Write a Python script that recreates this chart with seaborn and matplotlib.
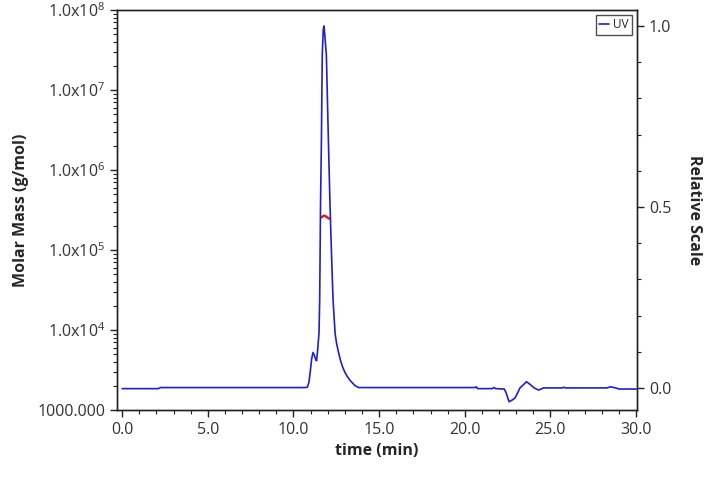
import numpy as np
import pandas as pd
import matplotlib
matplotlib.use("Agg")
import matplotlib.pyplot as plt
import matplotlib.ticker as mticker
import seaborn as sns

# UV trace (relative scale)
uv_time = [0.0, 2.1, 2.25, 10.7, 10.81, 10.9, 10.98, 11.06, 11.14, 11.22, 11.3, 11.35,
           11.42, 11.49, 11.53, 11.58, 11.63, 11.68, 11.74, 11.78, 11.82, 11.92,
           12.04, 12.13, 12.22, 12.31, 12.43, 12.52, 12.63, 12.75, 12.86, 13.0,
           13.15, 13.3, 13.44, 13.6, 13.8, 20.6, 20.67, 20.75, 21.6, 21.7, 21.8,
           22.3, 22.4, 22.58, 22.75, 22.93, 23.1, 23.22, 23.4, 23.6, 23.8, 24.05,
           24.3, 24.6, 25.7, 25.77, 25.85, 28.3, 28.5, 28.8, 29.0, 30.0]
uv_value = [-0.002, -0.002, 0.001, 0.001, 0.002, 0.015, 0.045, 0.08, 0.098, 0.09, 0.078,
            0.075, 0.11, 0.152, 0.243, 0.51, 0.68, 0.92, 0.99, 1.0, 0.98, 0.92,
            0.68, 0.51, 0.37, 0.243, 0.15, 0.122, 0.098, 0.075, 0.059, 0.043,
            0.031, 0.021, 0.014, 0.006, 0.001, 0.001, 0.003, -0.002, -0.002, 0.001,
            -0.002, -0.003, -0.012, -0.038, -0.034, -0.028, -0.012, 0.0, 0.008,
            0.017, 0.01, 0.0, -0.006, 0.0, 0.0, 0.002, 0.0, 0.0, 0.003, 0.0,
            -0.003, -0.003]

# Molar mass trace across the peak
mm_time = [11.63, 11.7, 11.78, 11.86, 11.94, 12.02, 12.11]
mm_value = [2.56e5, 2.62e5, 2.68e5, 2.66e5, 2.58e5, 2.52e5, 2.46e5]

x_ticks = [0.0, 5.0, 10.0, 15.0, 20.0, 25.0, 30.0]
left_ticks = [1e3, 1e4, 1e5, 1e6, 1e7, 1e8]
left_labels = ["1000.000", r"1.0x10$^{4}$", r"1.0x10$^{5}$", r"1.0x10$^{6}$",
               r"1.0x10$^{7}$", r"1.0x10$^{8}$"]
right_ticks = [0.0, 0.5, 1.0]

sns.set_theme(style="ticks")
plt.rcParams['font.family'] = ['Open Sans', 'DejaVu Sans']
plt.rcParams['mathtext.fontset'] = 'custom'
plt.rcParams['mathtext.rm'] = 'Open Sans'

fig = plt.figure(figsize=(7.2, 4.8), dpi=100)
ax = fig.add_axes([117/720, 70/480, (637-117)/720, 400/480])
ax2 = ax.twinx()

uv_df = pd.DataFrame({"time": uv_time, "uv": uv_value})
mm_df = pd.DataFrame({"time": mm_time, "mm": mm_value})

sns.lineplot(data=mm_df, x="time", y="mm", ax=ax, color="#e31a1c", linewidth=1.8,
             legend=False)
sns.lineplot(data=uv_df, x="time", y="uv", ax=ax2, color="#1f1fd0", linewidth=1.2,
             label="UV")

ax.set_yscale("log")
ax.set_ylim(1e3, 1e8)
ax.set_xlim(-0.3, 30.05)
ax2.set_ylim(-0.061, 1.044)

ax.set_xticks(x_ticks)
ax.set_xticklabels([f"{t:.1f}" for t in x_ticks])
ax.xaxis.set_minor_locator(mticker.MultipleLocator(1.0))
ax.set_yticks(left_ticks)
ax.set_yticklabels(left_labels)
ax.yaxis.set_minor_locator(mticker.LogLocator(base=10, subs=np.arange(2, 10)))
ax.yaxis.set_minor_formatter(mticker.NullFormatter())

ax2.set_yticks(right_ticks)
ax2.set_yticklabels([f"{t:.1f}" for t in right_ticks])
ax2.yaxis.set_minor_locator(mticker.MultipleLocator(0.1))

for a in (ax, ax2):
    a.tick_params(axis="both", which="major", direction="out", length=5, width=1,
                  labelsize=11.5, colors="#222222", labelcolor="#333333")
    a.tick_params(axis="both", which="minor", direction="out", length=3, width=0.8,
                  colors="#222222")
    for s in a.spines.values():
        s.set_color("#222222")
        s.set_linewidth(1.0)

ax.set_xlabel("time (min)", fontsize=11.5, fontweight="bold", labelpad=4)
ax.set_ylabel("Molar Mass (g/mol)", fontsize=11.5, fontweight="bold", labelpad=6)
ax2.set_ylabel("Relative Scale", fontsize=11.5, fontweight="bold", rotation=270,
               labelpad=22)

leg = ax2.legend(loc="upper right", frameon=True, fancybox=False, fontsize=8.5,
                 handlelength=0.8, handletextpad=0.4, borderpad=0.3,
                 borderaxespad=0.4)
leg.get_frame().set_edgecolor("#222222")
leg.get_frame().set_linewidth(1.0)

fig.savefig("out.png", dpi=100, facecolor="white")
